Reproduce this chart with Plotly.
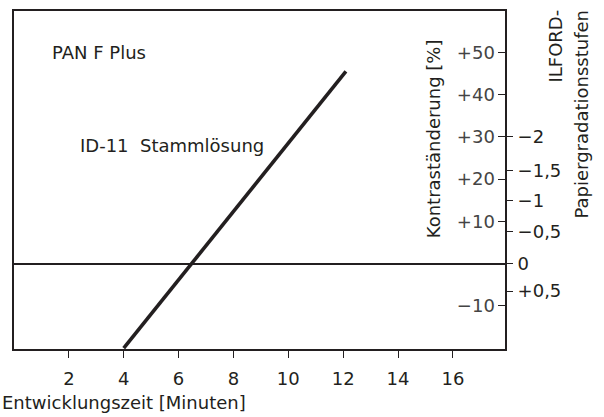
import plotly.graph_objects as go

# data
dev_time = [4.0, 12.1]          # minutes
contrast_change = [-20.0, 45.5]  # %

x_ticks = [2, 4, 6, 8, 10, 12, 14, 16]
pct_tickvals = [-10, 10, 20, 30, 40, 50]
pct_ticktext = ["\u221210", "+10", "+20", "+30", "+40", "+50"]
grade_tickvals = [30, 22, 15, 7.5, 0, -6.5]
grade_ticktext = ["\u22122", "\u22121,5", "\u22121", "\u22120,5", "0", "+0,5"]

W, H = 604, 417
L, R, T, B = 14, 99, 9, 68
pw, ph = W - L - R, H - T - B

def px(xpix):
    return (xpix - L) / pw

def py(ypix):
    return 1 - (ypix - T) / ph

FONT = "DejaVu Sans"
FS = 18
INK = "#231f20"

fig = go.Figure()
fig.add_trace(go.Scatter(x=dev_time, y=contrast_change, mode="lines",
                         line=dict(color=INK, width=3.6), showlegend=False,
                         hoverinfo="skip"))
# invisible trace for second y axis
fig.add_trace(go.Scatter(x=[None], y=[None], yaxis="y2", showlegend=False))

fig.update_layout(
    width=W, height=H,
    margin=dict(l=L, r=R, t=T, b=B),
    paper_bgcolor="white", plot_bgcolor="white",
    font=dict(family=FONT, size=FS, color=INK),
    xaxis=dict(range=[0, 17.9], tickvals=x_ticks, ticks="outside", ticklen=7,
               tickcolor=INK, tickwidth=1.3, showline=True, linecolor=INK,
               linewidth=1.5, mirror=True, showgrid=False, zeroline=False,
               tickfont=dict(size=FS), ticklabelstandoff=6),
    yaxis=dict(range=[-20.2, 59.8], side="right", tickvals=pct_tickvals,
               ticktext=pct_ticktext, ticks="inside", ticklen=7, tickcolor=INK,
               tickwidth=1.3, ticklabelposition="inside", showline=True,
               linecolor=INK, linewidth=1.5, mirror=True, showgrid=False,
               zeroline=True, zerolinecolor=INK, zerolinewidth=1.5,
               tickfont=dict(size=FS), ticklabelstandoff=4),
    yaxis2=dict(range=[-20.2, 59.8], overlaying="y", side="right",
                tickvals=grade_tickvals, ticktext=grade_ticktext,
                ticks="outside", ticklen=7, tickcolor=INK, tickwidth=1.3,
                showline=False, showgrid=False, zeroline=False,
                tickfont=dict(size=FS), ticklabelstandoff=1),
)

ann = [
    dict(text="PAN F Plus", x=px(50), y=py(51), xanchor="left", yanchor="middle"),
    dict(text="ID-11\u00a0\u00a0Stammlösung", x=px(78), y=py(144), xanchor="left", yanchor="middle"),
    dict(text="Entwicklungszeit [Minuten]", x=px(0), y=py(403), xanchor="left", yanchor="middle"),
    dict(text="Kontraständerung [%]", x=px(433), y=py(138), textangle=-90,
         xanchor="center", yanchor="middle"),
    dict(text="ILFORD-", x=px(556), y=py(6), textangle=-90, xanchor="center", yanchor="top"),
    dict(text="Papiergradationsstufen", x=px(582), y=py(6), textangle=-90,
         xanchor="center", yanchor="top"),
]
for a in ann:
    fig.add_annotation(xref="paper", yref="paper", showarrow=False,
                       font=dict(family=FONT, size=FS, color=INK), **a)

fig.write_html("out.html", config={"displayModeBar": False},
               post_script="document.body.style.margin='0';")
